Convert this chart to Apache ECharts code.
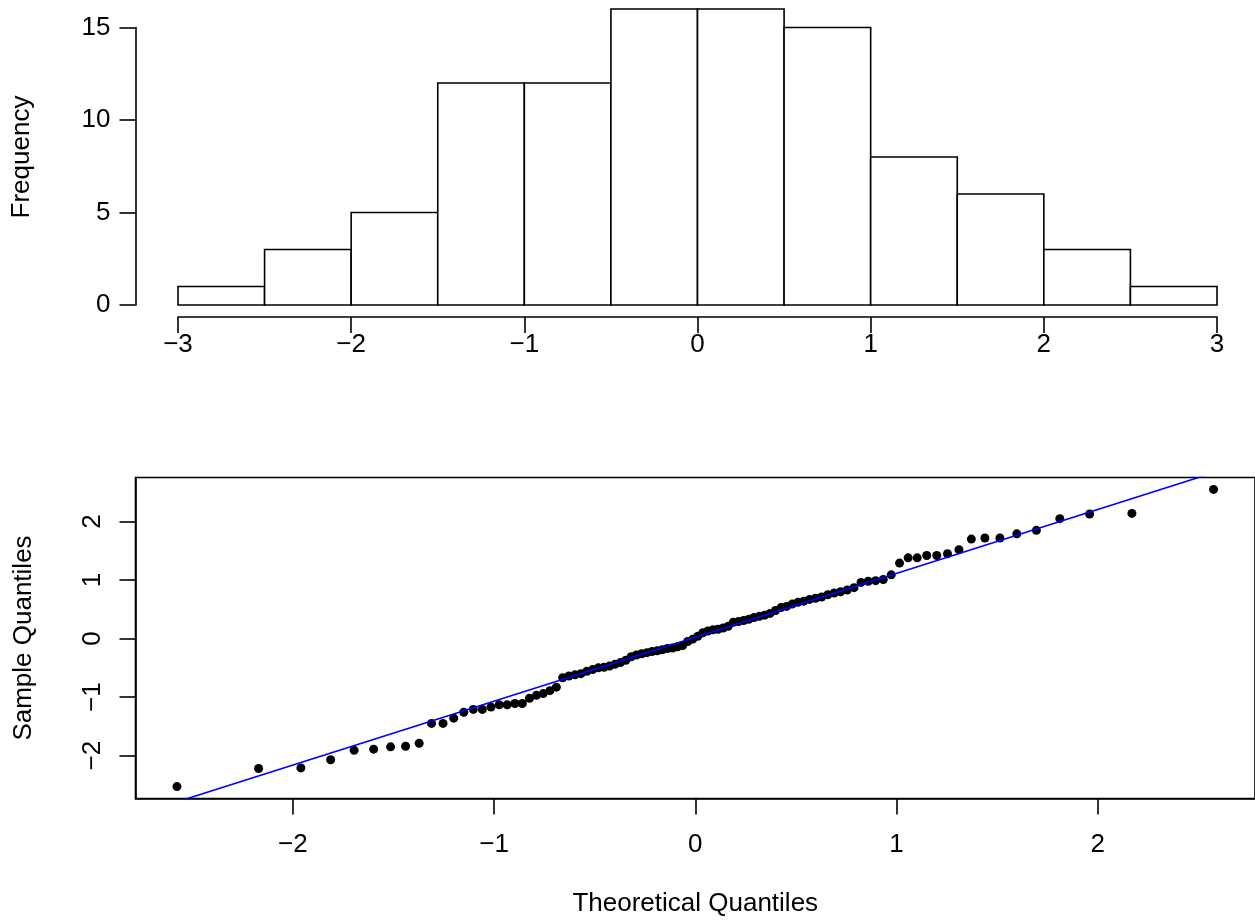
<!DOCTYPE html>
<html>
<head>
<meta charset="utf-8">
<script src="https://cdn.jsdelivr.net/npm/echarts@6/dist/echarts.min.js"></script>
<style>html,body{margin:0;padding:0;background:#fff}#c{width:1255px;height:924px}</style>
</head>
<body>
<div id="c"></div>
<script>
// ---------- data ----------
const histBreaks = [-3, -2.5, -2, -1.5, -1, -0.5, 0, 0.5, 1, 1.5, 2, 2.5, 3];
const histCounts = [1, 3, 5, 12, 12, 16, 16, 15, 8, 6, 3, 1];
const histXTicks = [-3, -2, -1, 0, 1, 2, 3];
const histYTicks = [0, 5, 10, 15];

// sorted sample values
const sampleQuantiles = [
  -2.53, -2.22, -2.21, -2.07, -1.91, -1.89, -1.85, -1.84, -1.79, -1.45,
  -1.45, -1.36, -1.26, -1.21, -1.21, -1.17, -1.13, -1.13, -1.11, -1.11,
  -1.02, -0.97, -0.94, -0.89, -0.83, -0.67, -0.64, -0.62, -0.60, -0.56,
  -0.53, -0.50, -0.49, -0.47, -0.44, -0.41, -0.37, -0.31, -0.28, -0.26,
  -0.24, -0.22, -0.21, -0.19, -0.17, -0.16, -0.14, -0.12, -0.05, -0.01,
  0.04, 0.10, 0.13, 0.15, 0.16, 0.18, 0.21, 0.28, 0.29, 0.31,
  0.33, 0.36, 0.38, 0.40, 0.43, 0.48, 0.53, 0.55, 0.59, 0.62,
  0.64, 0.67, 0.69, 0.71, 0.75, 0.78, 0.80, 0.83, 0.87, 0.96,
  0.98, 0.99, 1.01, 1.09, 1.29, 1.38, 1.38, 1.42, 1.42, 1.45,
  1.52, 1.70, 1.72, 1.72, 1.79, 1.85, 2.05, 2.13, 2.14, 2.55
];
const qqXTicks = [-2, -1, 0, 1, 2];
const qqYTicks = [-2, -1, 0, 1, 2];
const qqLine = { intercept: 0.022, slope: 1.092 };

// ---------- helpers ----------
function qnorm(p) {
  const a = [-3.969683028665376e+01, 2.209460984245205e+02, -2.759285104469687e+02, 1.383577518672690e+02, -3.066479806614716e+01, 2.506628277459239e+00];
  const b = [-5.447609879822406e+01, 1.615858368580409e+02, -1.556989798598866e+02, 6.680131188771972e+01, -1.328068155288572e+01];
  const c = [-7.784894002430293e-03, -3.223964580411365e-01, -2.400758277161838e+00, -2.549732539343734e+00, 4.374664141464968e+00, 2.938163982698783e+00];
  const d = [7.784695709041462e-03, 3.224671290700398e-01, 2.445134137142996e+00, 3.754408661907416e+00];
  const plow = 0.02425, phigh = 1 - plow;
  let q, r;
  if (p < plow) {
    q = Math.sqrt(-2 * Math.log(p));
    return (((((c[0]*q+c[1])*q+c[2])*q+c[3])*q+c[4])*q+c[5]) / ((((d[0]*q+d[1])*q+d[2])*q+d[3])*q+1);
  } else if (p <= phigh) {
    q = p - 0.5; r = q * q;
    return (((((a[0]*r+a[1])*r+a[2])*r+a[3])*r+a[4])*r+a[5])*q / (((((b[0]*r+b[1])*r+b[2])*r+b[3])*r+b[4])*r+1);
  } else {
    q = Math.sqrt(-2 * Math.log(1 - p));
    return -(((((c[0]*q+c[1])*q+c[2])*q+c[3])*q+c[4])*q+c[5]) / ((((d[0]*q+d[1])*q+d[2])*q+d[3])*q+1);
  }
}
const n = sampleQuantiles.length;
const theoretical = sampleQuantiles.map((_, i) => qnorm((i + 1 - 0.5) / n));
function padRange(arr) {
  const lo = Math.min(...arr), hi = Math.max(...arr), e = 0.04 * (hi - lo);
  return [lo - e, hi + e];
}
const xlim = padRange(theoretical);
const ylim = padRange(sampleQuantiles);

const FONT = '"Liberation Sans", Arial, Helvetica, sans-serif';
const FS = 26;
const LW = 1.6;
const minus = v => String(v).replace('-', '\u2212');
const axisText = { color: '#000', fontSize: FS, fontFamily: FONT };

const chart = echarts.init(document.getElementById('c'), null, { renderer: 'canvas' });
chart.setOption({
  animation: false,
  backgroundColor: '#fff',
  grid: [
    { left: 178, top: 27.5, width: 1039, height: 277.5 },
    { left: 135.5, top: 477.5, width: 1123.5, height: 321, show: true,
      borderColor: '#000', borderWidth: LW, backgroundColor: 'rgba(0,0,0,0)' }
  ],
  xAxis: [
    { gridIndex: 0, type: 'value', min: histBreaks[0], max: histBreaks[histBreaks.length - 1],
      offset: 12,
      axisLine: { show: true, onZero: false, lineStyle: { color: '#000', width: LW } },
      axisTick: { show: true, length: 16, customValues: histXTicks, lineStyle: { color: '#000', width: LW } },
      axisLabel: Object.assign({ margin: 15, customValues: histXTicks, formatter: minus }, axisText),
      splitLine: { show: false } },
    { gridIndex: 1, type: 'value', min: xlim[0], max: xlim[1],
      axisLine: { show: true, onZero: false, lineStyle: { color: '#000', width: LW } },
      axisTick: { show: true, length: 16, customValues: qqXTicks, lineStyle: { color: '#000', width: LW } },
      axisLabel: Object.assign({ margin: 33, customValues: qqXTicks, formatter: minus }, axisText),
      splitLine: { show: false },
      name: 'Theoretical Quantiles', nameLocation: 'middle', nameGap: 92,
      nameTextStyle: axisText }
  ],
  yAxis: [
    { gridIndex: 0, type: 'value', min: histYTicks[0], max: histYTicks[histYTicks.length - 1],
      offset: 42.5,
      axisLine: { show: true, onZero: false, lineStyle: { color: '#000', width: LW } },
      axisTick: { show: true, length: 16, customValues: histYTicks, lineStyle: { color: '#000', width: LW } },
      axisLabel: Object.assign({ margin: 25, customValues: histYTicks }, axisText),
      splitLine: { show: false } },
    { gridIndex: 1, type: 'value', min: ylim[0], max: ylim[1],
      axisLine: { show: true, onZero: false, lineStyle: { color: '#000', width: LW } },
      axisTick: { show: true, length: 16, customValues: qqYTicks, lineStyle: { color: '#000', width: LW } },
      axisLabel: Object.assign({ margin: 30, rotate: 90, customValues: qqYTicks, formatter: minus }, axisText),
      splitLine: { show: false },
      name: 'Sample Quantiles', nameLocation: 'middle', nameGap: 99, nameRotate: 90,
      nameTextStyle: axisText }
  ],
  graphic: [
    { type: 'text', rotation: Math.PI / 2, x: 22, y: 157,
      style: { text: 'Frequency', fill: '#000', font: FS + 'px ' + FONT, textAlign: 'center', textVerticalAlign: 'middle' } }
  ],
  series: [
    { type: 'custom', xAxisIndex: 0, yAxisIndex: 0, clip: false,
      data: histCounts.map((cnt, i) => [histBreaks[i], histBreaks[i + 1], cnt]),
      renderItem: function (params, api) {
        const p0 = api.coord([api.value(0), 0]);
        const p1 = api.coord([api.value(1), api.value(2)]);
        return { type: 'rect',
          shape: { x: p0[0], y: p1[1], width: p1[0] - p0[0], height: p0[1] - p1[1] },
          style: { fill: '#fff', stroke: '#000', lineWidth: LW } };
      } },
    { type: 'scatter', xAxisIndex: 1, yAxisIndex: 1, symbol: 'circle', symbolSize: 9,
      itemStyle: { color: '#000', opacity: 1 }, z: 3,
      data: theoretical.map((t, i) => [t, sampleQuantiles[i]]) },
    { type: 'line', xAxisIndex: 1, yAxisIndex: 1, showSymbol: false, clip: true, z: 4,
      lineStyle: { color: '#0000ff', width: LW },
      data: [[xlim[0], qqLine.intercept + qqLine.slope * xlim[0]], [xlim[1], qqLine.intercept + qqLine.slope * xlim[1]]] }
  ]
});
</script>
</body>
</html>
